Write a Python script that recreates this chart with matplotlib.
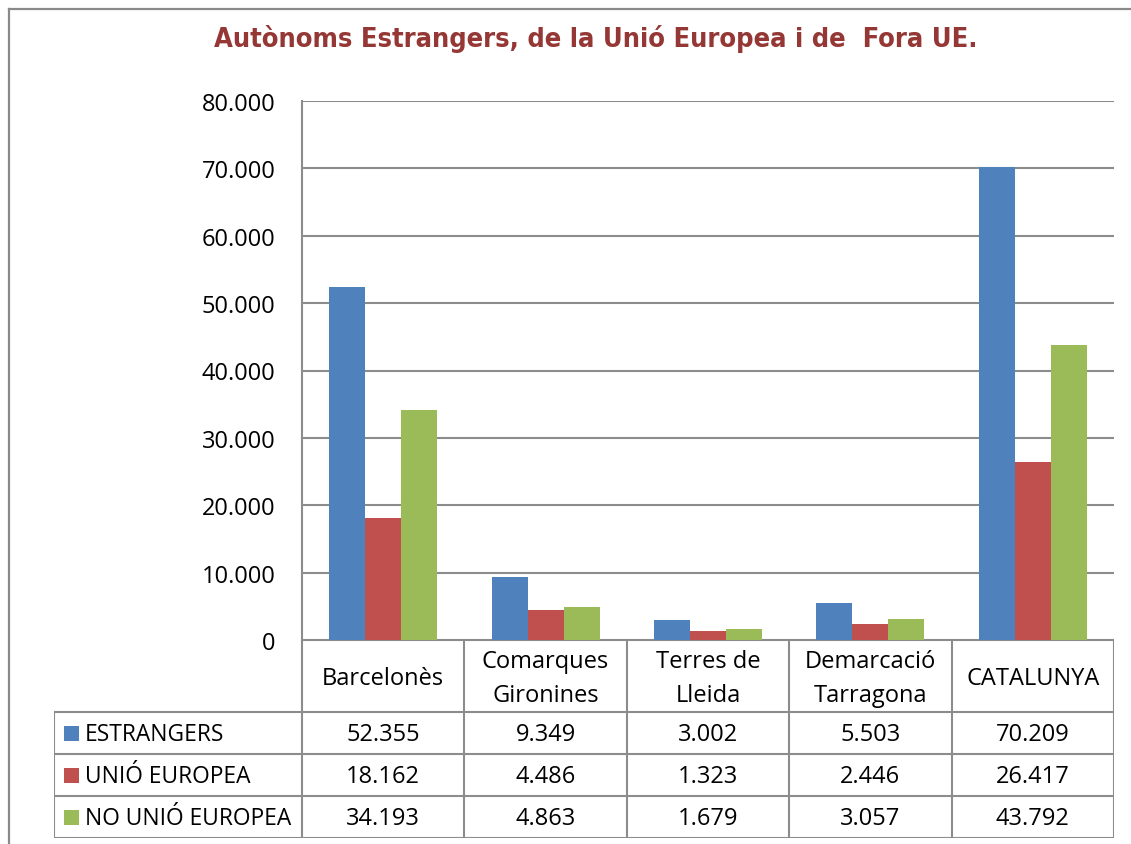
"""
Autonoms estrangers per demarcacio: grouped bars with a data table below
"""

import matplotlib
matplotlib.use("Agg")
import matplotlib.pyplot as plt
from matplotlib.lines import Line2D
from matplotlib.patches import Rectangle
from matplotlib.ticker import FuncFormatter, MultipleLocator

# Data
categories = ["Barcelonès", "Comarques\nGironines", "Terres de\nLleida",
              "Demarcació\nTarragona", "CATALUNYA"]
series_names = ["ESTRANGERS", "UNIÓ EUROPEA", "NO UNIÓ EUROPEA"]
estrangers = [52355, 9349, 3002, 5503, 70209]
unio_europea = [18162, 4486, 1323, 2446, 26417]
no_unio_europea = [34193, 4863, 1679, 3057, 43792]
series = [estrangers, unio_europea, no_unio_europea]
colors = ["#4F81BD", "#C0504D", "#9BBB59"]
title = "Autònoms Estrangers, de la Unió Europea i de  Fora UE."

W, H = 1131, 845
FONT = "Open Sans"
FS = 17
GRID = "#8c8c8c"


def fmt(v):
    return f"{v:,.0f}".replace(",", ".")


def fx(px):
    return px / W


def fy(py):
    return 1 - py / H


fig = plt.figure(figsize=(W / 100, H / 100), dpi=100)
plt.rcParams["font.family"] = [FONT, "DejaVu Sans"]

# Outer frame (top and left edges visible)
fig.add_artist(Line2D([fx(9), fx(9)], [fy(10), 0], color="#8a8a8a", lw=1.6))
fig.add_artist(Line2D([fx(9), 1], [fy(10), fy(10)], color="#8a8a8a", lw=1.6))

fig.text(fx(596), fy(39), title, ha="center", va="center",
         family="DejaVu Sans", fontstretch="condensed", fontweight="bold",
         fontsize=19.5, color="#953735")

# Bar chart
ax = fig.add_axes([fx(302), fy(641), fx(1114) - fx(302), fy(102) - fy(641)])
n = len(categories)
width = 0.222
for k, (vals, col) in enumerate(zip(series, colors)):
    xs = [i + (k - 1) * width for i in range(n)]
    ax.bar(xs, vals, width=width, color=col, zorder=3, linewidth=0)

ax.set_xlim(-0.5, n - 0.5)
ax.set_ylim(0, 80000)
ax.yaxis.set_major_locator(MultipleLocator(10000))
ax.yaxis.set_major_formatter(FuncFormatter(lambda v, p: fmt(v)))
ax.grid(axis="y", color=GRID, lw=1.5, zorder=0)
ax.set_xticks([])
ax.tick_params(axis="y", length=0, pad=19, labelsize=FS)
for s in ["top", "right", "bottom"]:
    ax.spines[s].set_visible(False)
ax.spines["left"].set_color(GRID)
ax.spines["left"].set_linewidth(1.5)

# Data table below the chart
tax = fig.add_axes([fx(54), fy(839), fx(1114) - fx(54), fy(641) - fy(839)])
cat_px = (1114 - 302) / n
label_w = (302 - 54) / cat_px
tax.set_xlim(-0.5 - label_w, n - 0.5)
tax.set_ylim(198, 0)
tax.axis("off")
row_tops = [0, 72, 114, 156, 198]
lk = dict(color=GRID, lw=1.5, solid_capstyle="projecting")

# horizontal lines
tax.plot([-0.5, n - 0.5], [0, 0], **lk)
for y in row_tops[1:]:
    tax.plot([-0.5 - label_w, n - 0.5], [y, y], **lk)
# vertical lines
tax.plot([-0.5 - label_w] * 2, [72, 198], **lk)
for j in range(n + 1):
    tax.plot([j - 0.5] * 2, [0, 198], **lk)

for i, cat in enumerate(categories):
    tax.text(i, 38, cat, ha="center", va="center", fontsize=FS,
             linespacing=1.5)

for r, (name, vals, col) in enumerate(zip(series_names, series, colors)):
    yc = (row_tops[r + 1] + row_tops[r + 2]) / 2
    x0 = -0.5 - label_w + 10 / cat_px
    tax.add_patch(Rectangle((x0, yc - 7.5), 15 / cat_px, 15, color=col,
                            lw=0))
    tax.text(x0 + 21 / cat_px, yc + 1, name, ha="left", va="center",
             fontsize=16.4)
    for i, v in enumerate(vals):
        tax.text(i, yc + 1, fmt(v), ha="center", va="center", fontsize=FS)

fig.savefig("out.png", dpi=100)
